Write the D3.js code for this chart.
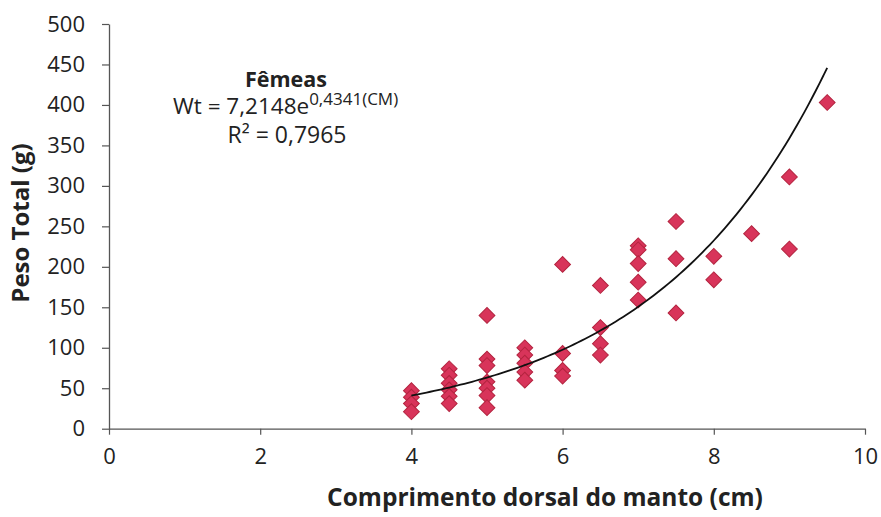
<!DOCTYPE html>
<html><head><meta charset="utf-8">
<script src="https://cdn.jsdelivr.net/npm/d3@7"></script>
<style>body{margin:0;background:#fff}svg{display:block}text{font-family:"Open Sans",Lato,sans-serif;fill:#222}</style>
</head><body><svg id="c" width="881" height="517"></svg>
<script>
// Data: comprimento dorsal do manto (cm) vs peso total (g)
const xValues = [4,4,4,4, 4.5,4.5,4.5,4.5,4.5,4.5, 5,5,5,5,5,5,5, 5.5,5.5,5.5,5.5,5.5, 6,6,6,6, 6.5,6.5,6.5,6.5, 7,7,7,7,7, 7.5,7.5,7.5, 8,8, 8.5, 9,9, 9.5];
const yValues = [47,39,31,21, 74,66,56,48,40,31, 140,86,78,58,50,41,26, 100,91,81,70,60, 203,93,72,65, 177,125,105,91, 226,221,204,181,159, 256,210,143, 213,184, 241, 311,222, 403];
const xTicks = [0,2,4,6,8,10];
const yTicks = [0,50,100,150,200,250,300,350,400,450,500];
const fitA = 7.2148, fitB = 0.4341;
const fitDomain = [4, 9.5];

const svg = d3.select("#c");
const L = 109, R = 865, T = 24, B = 428.7;
const x = d3.scaleLinear().domain([0,10]).range([L,R]);
const y = d3.scaleLinear().domain([0,500]).range([B,T]);
const FONT = "'Open Sans', Lato, sans-serif";

const xAxis = svg.append("g").attr("transform",`translate(0,${B})`)
  .call(d3.axisBottom(x).tickValues(xTicks).tickSize(6).tickSizeOuter(0).tickPadding(12));
const yAxis = svg.append("g").attr("transform",`translate(${L},0)`)
  .call(d3.axisLeft(y).tickValues(yTicks).tickSize(7).tickSizeOuter(0).tickPadding(17));
[xAxis,yAxis].forEach(g=>{
  g.select(".domain").attr("stroke","#555").attr("stroke-width",1.3);
  g.selectAll(".tick line").attr("stroke","#555").attr("stroke-width",1.2);
  g.selectAll(".tick text").style("font-family",FONT).style("font-size","22px").attr("fill","#222");
});
xAxis.selectAll(".tick text").attr("dy","0.8em");

const data = xValues.map((v,i)=>({x:v,y:yValues[i]}));
const diamond = d3.symbol().type(d3.symbolSquare).size(125);
svg.append("g").selectAll("path").data(data).join("path")
  .attr("d", diamond)
  .attr("transform", d=>`translate(${x(d.x)},${y(d.y)}) rotate(45)`)
  .attr("fill","#d8345a").attr("stroke","#b3243f").attr("stroke-width",1);

const curveX = d3.range(fitDomain[0], fitDomain[1]+0.001, 0.05);
const line = d3.line().x(d=>x(d)).y(d=>y(fitA*Math.exp(fitB*d))).curve(d3.curveBasis);
svg.append("path").datum(curveX).attr("d",line).attr("fill","none").attr("stroke","#111").attr("stroke-width",1.8);

// Axis titles
svg.append("text").attr("x",545).attr("y",506).attr("text-anchor","middle")
  .style("font-size","24.5px").style("font-weight","bold").text("Comprimento dorsal do manto (cm)");
svg.append("text").attr("transform","translate(29,223) rotate(-90)").attr("text-anchor","middle")
  .style("font-size","24px").style("font-weight","bold").text("Peso Total (g)");

// Annotation
svg.append("text").attr("x",286).attr("y",87).attr("text-anchor","middle")
  .style("font-size","21.5px").style("font-weight","bold").text("Fêmeas");
const eq = svg.append("text").attr("x",173).attr("y",114).attr("text-anchor","start").style("font-size","22.5px");
eq.append("tspan").text("Wt = 7,2148e");
eq.append("tspan").attr("dy",-9).style("font-size","17px").text("0,4341(CM)");
svg.append("text").attr("x",287).attr("y",143).attr("text-anchor","middle").style("font-size","23px")
  .text("R² = 0,7965");
</script></body></html>
